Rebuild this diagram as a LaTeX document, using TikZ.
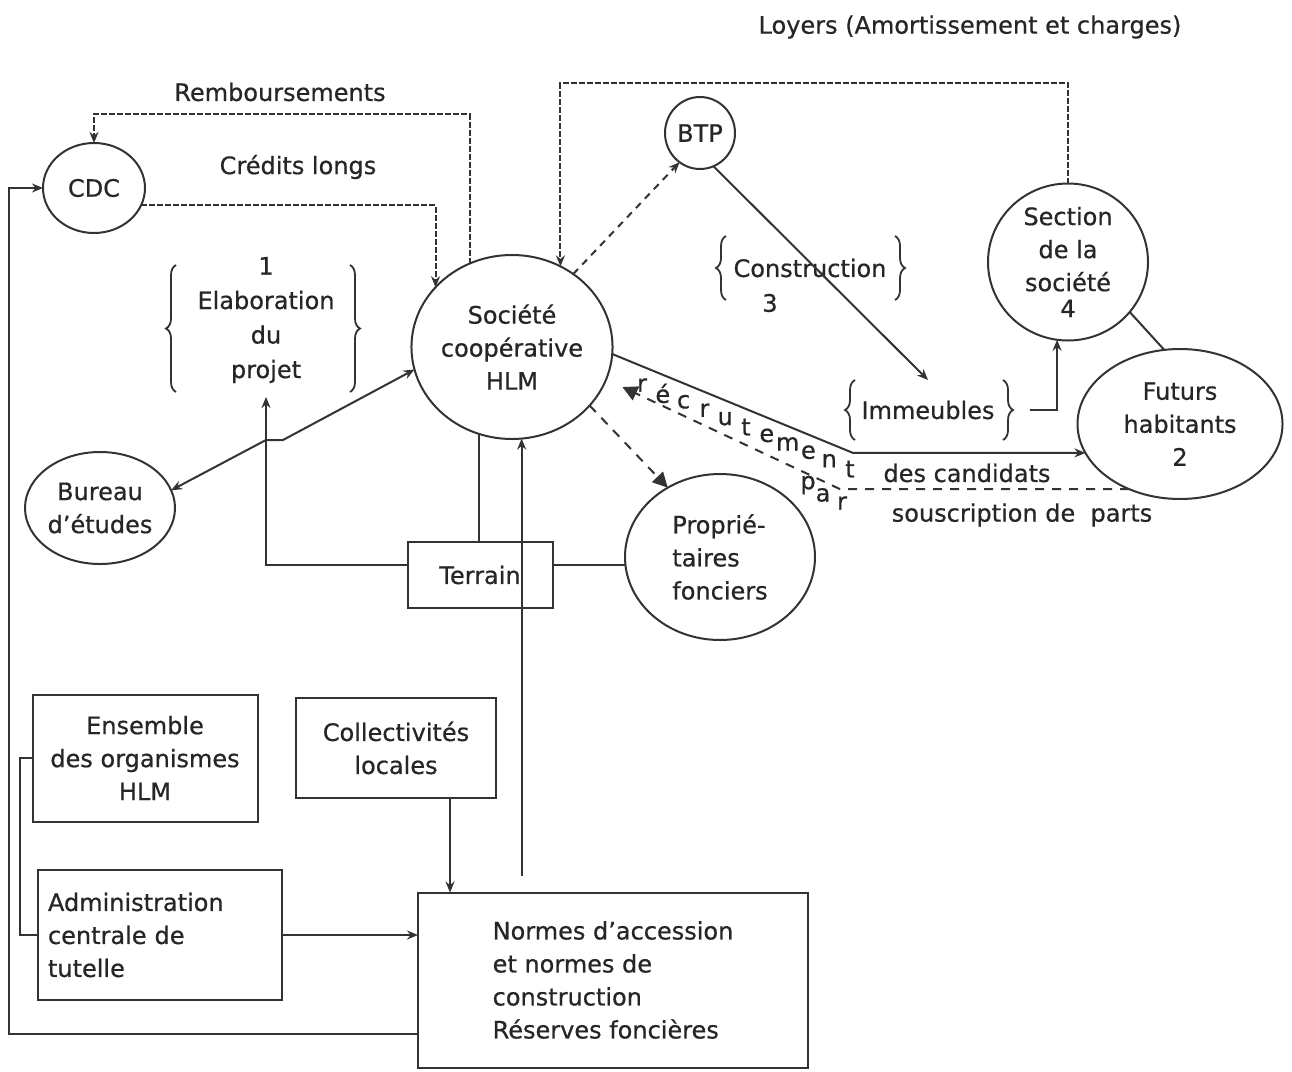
\documentclass[tikz,border=0pt]{standalone}
\usepackage{fontspec}
\setmainfont{DejaVu Sans}[FakeBold=0.6]
\usetikzlibrary{shapes.geometric,arrows.meta,decorations.pathreplacing,calc}
\begin{document}
\begin{tikzpicture}[x=1pt,y=-1pt,
  every node/.style={font=\fontsize{24}{33}\selectfont, text=black!85, inner sep=0pt, outer sep=0pt},
  ln/.style={line width=2pt, draw=black!80},
  oval/.style={ellipse, ln, fill=white},
  box/.style={rectangle, ln, fill=white},
  fine/.style={ln, dash pattern=on 6pt off 2pt},
  dashA/.style={ln, dash pattern=on 7pt off 6pt},
  dashB/.style={ln, dash pattern=on 9pt off 8pt},
  tip/.style={-{Stealth[length=11pt,width=9pt]}},
  bigtip/.style={-{Triangle[length=15pt,width=15pt]}},
  brc/.style={ln, line width=1.8pt, decorate, decoration={brace, amplitude=10pt}},
]
\useasboundingbox (0,0) rectangle (1292,1071);

% helper coordinates for routed connectors
\coordinate (yloy) at (0,83);
\coordinate (yremb) at (0,114);
\coordinate (ybot) at (0,1034);
\coordinate (yter) at (0,565);
\coordinate (xloop) at (9,0);
\coordinate (xbr) at (20,0);
\coordinate (rb1) at (853,0);
\coordinate (rb2) at (840,0);
\coordinate (j1) at (266,440);
\coordinate (j2) at (283,440);

% ovals
\node[oval, minimum width=102pt, minimum height=90pt] (cdc) at (94,188) {CDC};
\node[oval, minimum width=190pt, minimum height=184pt, align=center] (soc) at (512,347) {Société\\coopérative\\HLM};
\node[oval, minimum width=70pt, minimum height=72pt] (btp) at (700,133) {BTP};
\node[oval, minimum width=160pt, minimum height=157pt, align=center] (sec) at (1068,262) {Section\\de la\\société\\[-7pt]4};
\node[oval, minimum width=205pt, minimum height=150pt, align=center] (fut) at (1180,424) {Futurs\\habitants\\2};
\node[oval, minimum width=190pt, minimum height=166pt, align=left] (prop) at (720,557) {Proprié-\\taires\\fonciers};
\node[oval, minimum width=150pt, minimum height=112pt, align=center] (bur) at (100,508) {Bureau\\d'études};

% boxes
\node[box, minimum width=145pt, minimum height=66pt] (ter) at (480,575) {Terrain};
\node[box, minimum width=225pt, minimum height=127pt, align=center] (ens) at (145,758) {Ensemble\\des organismes\\HLM};
\node[box, minimum width=200pt, minimum height=100pt, align=center] (col) at (396,748) {Collectivités\\locales};
\node[box, minimum width=244pt, minimum height=130pt, text width=224pt, align=left] (adm) at (160,935) {Administration\\centrale de\\tutelle};
\node[box, minimum width=390pt, minimum height=175pt, align=left] (nor) at (613,980) {Normes d'accession\\et normes de\\construction\\Réserves foncières};

% bracketed groups
\node[align=center, font=\fontsize{24}{34.5}\selectfont] (elab) at (266,320) {1\\Elaboration\\du\\projet};
\draw[brc] (176,392) -- (176,265);
\draw[brc] (350,265) -- (350,392);

\node (cons) at (810,268) {Construction};
\node (three) at (770,303) {3};
\draw[brc] (726,300) -- (726,236);
\draw[brc] (895,236) -- (895,300);

\node[minimum width=180pt, minimum height=60pt] (imm) at (928,410) {Immeubles};
\draw[brc] (855,440) -- (855,380);
\draw[brc] (1003,380) -- (1003,440);

% free labels
\node (loy) at (970,27) {Loyers (Amortissement et charges)};
\node (remb) at (280,92) {Remboursements};
\node (cred) at (298,167) {Crédits longs};
\node (cand) at (967,473) {des candidats};
\node (sousc) at (1022,515) {souscription de~~parts};
\foreach \ch [count=\i from 0] in {r,é,c,r,u,t,e,m,e,n,t}
  \node (rec\i) at (642+20.8*\i, 385+8.4*\i) {\ch};
\node (par1) at (808,485) {p};
\node (par2) at (823,495) {a};
\node (par3) at (842,503) {r};

% financial flows
\draw[fine,tip] (soc.117) -- (soc.117 |- yremb) -| (cdc.north);
\draw[fine,tip] (cdc.-20) -| (soc.142);
\draw[fine,tip] (sec.north) -- (sec.north |- yloy) -| (soc.59);

% construction chain
\draw[dashA,tip] (soc.50) -- (btp.235);
\draw[ln,tip] (btp.-68) -- (imm.north);
\draw[ln,tip] ([xshift=12pt]imm.east) -| (sec.262);
\draw[ln] (sec.-39) -- (fut.102);

% recruitment of future residents
\draw[ln,tip] (soc.-4) -- (rb1 |- fut.197) -- (fut.197);
\draw[dashB,bigtip,shorten >=18pt] (fut.232) -- (rb2 |- fut.232) -- (soc.-19);
\draw[dashB,bigtip] (soc.-37) -- (prop.127);

% land and design office
\draw[ln] (soc.-111) -- (soc.-111 |- ter.north);
\draw[ln,tip,shorten <=17pt] (soc.-84 |- nor.north) -- (soc.-84);
\draw[ln] (ter.east |- yter) -- (prop.west |- yter);
\draw[ln,tip] (ter.west |- yter) -| ([yshift=-14pt]elab.south);
\draw[ln,{Stealth[length=11pt,width=9pt]}-{Stealth[length=11pt,width=9pt]}] (bur.14) -- (j1) -- (j2) -- (soc.193);

% public bodies
\draw[ln,tip] ([xshift=54pt]col.south) -- ([xshift=54pt]col.south |- nor.north);
\draw[ln,tip] (adm.east) -- (adm.east -| nor.west);
\draw[ln] (ens.west) -- (xbr |- ens.west) -- (xbr |- adm.west) -- (adm.west);
\draw[ln,tip] (nor.west |- ybot) -| (xloop |- cdc.west) -- (cdc.west);
\end{tikzpicture}
\end{document}
